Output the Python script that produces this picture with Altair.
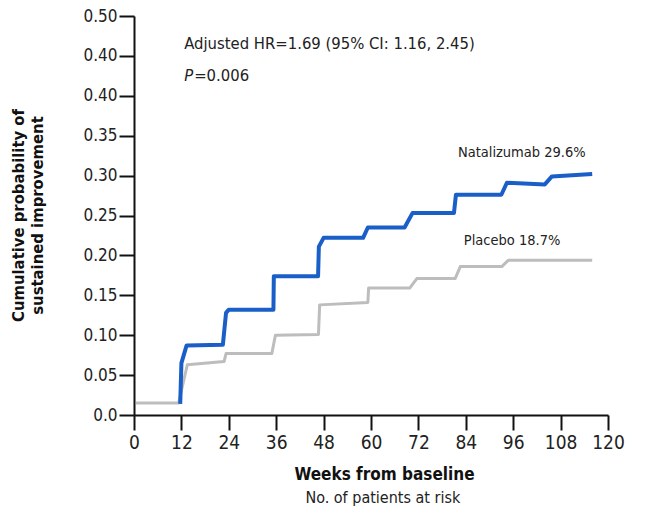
import altair as alt
import pandas as pd

# --- data ---
nat_weeks = [11.7, 12.0, 13.3, 22.5, 23.3, 24.0, 35.3, 35.4, 46.6, 46.8, 48.0, 58.0, 59.2,
             68.5, 70.5, 81.0, 81.5, 93.0, 94.4, 104.0, 105.8, 116.0]
nat_vals = [0.014, 0.065, 0.087, 0.088, 0.128, 0.132, 0.132, 0.174, 0.174, 0.211, 0.222, 0.222, 0.235,
            0.235, 0.253, 0.253, 0.276, 0.276, 0.291, 0.289, 0.299, 0.302]

pla_weeks = [0.5, 11.3, 13.5, 22.8, 23.3, 34.9, 35.8, 46.7, 47.0, 59.2, 59.4, 69.8, 71.6,
             81.3, 82.6, 93.1, 94.8, 116.0]
pla_vals = [0.015, 0.015, 0.063, 0.067, 0.077, 0.077, 0.100, 0.101, 0.138, 0.141, 0.159, 0.159, 0.171,
            0.171, 0.186, 0.186, 0.194, 0.194]

x_ticks = [0, 12, 24, 36, 48, 60, 72, 84, 96, 108, 120]
y_ticks = [0.0, 0.05, 0.10, 0.15, 0.20, 0.25, 0.30, 0.35, 0.40, 0.45, 0.50]

series_names = ["Placebo", "Natalizumab"]
series_colors = ["#bdbdbd", "#1a5fc8"]
series_widths = [3.0, 4.0]

label_text = ["Natalizumab 29.6%", "Placebo 18.7%"]
label_x = [82.0, 83.5]
label_y = [0.328, 0.218]

FONT = "Liberation Sans Narrow, DejaVu Sans Condensed, Roboto, sans-serif"

W, H = 474, 399

df = pd.concat([
    pd.DataFrame({"week": pla_weeks, "p": pla_vals, "series": "Placebo", "order": range(len(pla_weeks))}),
    pd.DataFrame({"week": nat_weeks, "p": nat_vals, "series": "Natalizumab", "order": range(len(nat_weeks))}),
])

xscale = alt.Scale(domain=[0, 120], nice=False, zero=True)
yscale = alt.Scale(domain=[0, 0.5], nice=False)

xaxis = alt.Axis(values=x_ticks, tickCount=len(x_ticks), grid=False, title="Weeks from baseline",
                 labelFontSize=19, labelFont=FONT, labelColor="#222", labelPadding=3,
                 labelOverlap=False, labelBound=False, labelFlush=False,
                 tickSize=15, tickWidth=2, tickColor="#111", domainColor="#111", domainWidth=2,
                 titleFont=FONT, titleFontSize=17, titleFontWeight="bold", titleColor="#111",
                 titleX=250, titleY=59, titleBaseline="middle", titleAlign="center")
yaxis = alt.Axis(values=y_ticks, tickCount=len(y_ticks), grid=False,
                 title=["Cumulative probability of", "sustained improvement"],
                 labelExpr="datum.value < 0.001 ? '0.0' : (abs(datum.value - 0.45) < 0.001 ? '0.40' : format(datum.value, '.2f'))",
                 labelFontSize=17, labelFont=FONT, labelColor="#222", labelPadding=2,
                 labelOverlap=False, labelBound=False, labelFlush=False,
                 tickSize=15, tickWidth=2, tickColor="#111", domainColor="#111", domainWidth=2,
                 titleFont=FONT, titleFontSize=16.5, titleFontWeight="bold", titleColor="#111",
                 titleLineHeight=19, titleX=-116, titleY=199, titleAngle=-90,
                 titleAlign="center", titleBaseline="middle")

lines = alt.Chart(df).mark_line(strokeJoin="round", strokeCap="butt").encode(
    x=alt.X("week:Q", scale=xscale, axis=xaxis),
    y=alt.Y("p:Q", scale=yscale, axis=yaxis),
    color=alt.Color("series:N", scale=alt.Scale(domain=series_names, range=series_colors), legend=None),
    strokeWidth=alt.StrokeWidth("series:N", scale=alt.Scale(domain=series_names, range=series_widths), legend=None),
    detail="series:N",
    order="order:Q",
)

lab_df = pd.DataFrame({"t": label_text, "x": label_x, "y": label_y})
labels = alt.Chart(lab_df).mark_text(align="left", baseline="middle", font=FONT, fontSize=14.5,
                                     color="#222").encode(
    x=alt.X("x:Q", scale=xscale), y=alt.Y("y:Q", scale=yscale), text="t:N")

ann_df = pd.DataFrame({"t": ["Adjusted HR=1.69 (95% CI: 1.16, 2.45)"], "x": [12.7], "y": [0.465]})
ann = alt.Chart(ann_df).mark_text(align="left", baseline="middle", font=FONT, fontSize=16.5,
                                  color="#222").encode(
    x=alt.X("x:Q", scale=xscale), y=alt.Y("y:Q", scale=yscale), text="t:N")

p_df = pd.DataFrame({"t": ["P"], "x": [12.7], "y": [0.425]})
p_it = alt.Chart(p_df).mark_text(align="left", baseline="middle", font=FONT, fontSize=16.5,
                                 fontStyle="italic", color="#222").encode(
    x=alt.X("x:Q", scale=xscale), y=alt.Y("y:Q", scale=yscale), text="t:N")
p_val_df = pd.DataFrame({"t": ["=0.006"], "x": [12.7], "y": [0.425]})
p_val = alt.Chart(p_val_df).mark_text(align="left", baseline="middle", font=FONT, fontSize=16.5,
                                      dx=10, color="#222").encode(
    x=alt.X("x:Q", scale=xscale), y=alt.Y("y:Q", scale=yscale), text="t:N")

sub_df = pd.DataFrame({"t": ["No. of patients at risk"], "x": [63.0]})
sub = alt.Chart(sub_df).mark_text(align="center", baseline="middle", font=FONT, fontSize=16,
                                  color="#222").encode(
    x=alt.X("x:Q", scale=xscale), y=alt.value(H + 83), text="t:N")

chart = alt.layer(lines, labels, ann, p_it, p_val, sub).properties(
    width=W, height=H,
    autosize=alt.AutoSizeParams(type="none"),
    padding={"left": 134, "top": 16, "right": 39, "bottom": 98},
    background="white",
).configure_view(stroke=None)

chart.save("out.html", embed_options={"renderer": "svg", "actions": False})
